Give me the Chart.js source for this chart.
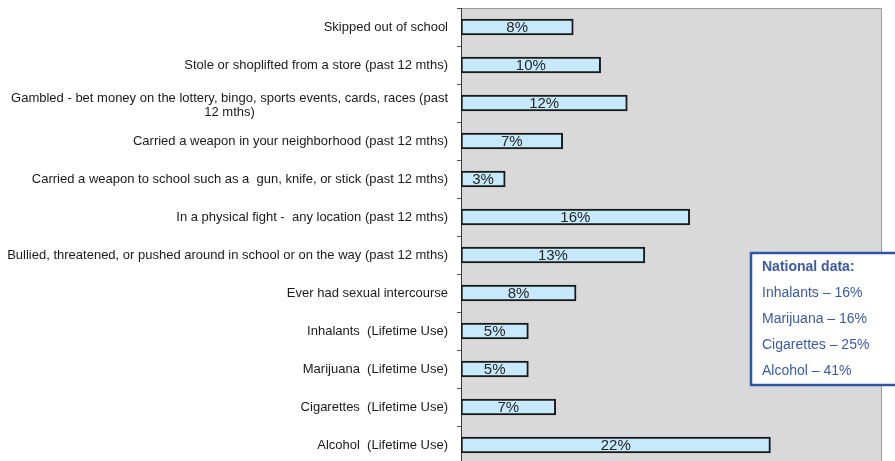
<!DOCTYPE html>
<html>
<head>
<meta charset="utf-8">
<script src="https://cdn.jsdelivr.net/npm/chart.js@4/dist/chart.umd.min.js"></script>
<style>
  html, body { margin: 0; padding: 0; background: #fff; overflow: hidden; }
  #wrap { position: relative; width: 895px; height: 464px; }
</style>
</head>
<body>
<div id="wrap"><canvas id="chart"></canvas></div>
<script>
// behaviours, top to bottom (multi-line labels as arrays)
const categories = [
  "Skipped out of school",
  "Stole or shoplifted from a store (past 12 mths)",
  ["Gambled - bet money on the lottery, bingo, sports events, cards, races (past", "12 mths)"],
  "Carried a weapon in your neighborhood (past 12 mths)",
  "Carried a weapon to school such as a  gun, knife, or stick (past 12 mths)",
  "In a physical fight -  any location (past 12 mths)",
  "Bullied, threatened, or pushed around in school or on the way (past 12 mths)",
  "Ever had sexual intercourse",
  "Inhalants  (Lifetime Use)",
  "Marijuana  (Lifetime Use)",
  "Cigarettes  (Lifetime Use)",
  "Alcohol  (Lifetime Use)"
];
// percent
const percents = [8.0, 9.95, 11.85, 7.25, 3.15, 16.3, 13.1, 8.2, 4.8, 4.8, 6.75, 22.05];

const nationalTitle = "National data:";
const nationalLabels = ["Inhalants", "Marijuana", "Cigarettes", "Alcohol"];
const nationalValues = [16, 16, 25, 41];

const FONT = "'Liberation Sans', Arial, sans-serif";

const plotBackground = {
  id: "plotBackground",
  beforeDraw(chart) {
    const { ctx, chartArea: a } = chart;
    ctx.save();
    ctx.fillStyle = "#d9d9d9";
    ctx.fillRect(a.left, a.top, a.right - a.left, a.bottom - a.top);
    ctx.strokeStyle = "#9c9c9c";
    ctx.lineWidth = 1;
    ctx.beginPath();
    ctx.moveTo(a.left, a.top + 0.5);
    ctx.lineTo(a.right - 0.5, a.top + 0.5);
    ctx.lineTo(a.right - 0.5, a.bottom);
    ctx.stroke();
    ctx.restore();
  }
};

const categoryLabels = {
  id: "categoryLabels",
  afterDraw(chart) {
    const { ctx } = chart;
    const y = chart.scales.y;
    const right = chart.chartArea.left - 13;
    const lineH = 14;
    ctx.save();
    ctx.font = "13px " + FONT;
    ctx.fillStyle = "#1a1a1a";
    ctx.textBaseline = "middle";
    ctx.textAlign = "center";
    categories.forEach((lab, i) => {
      const lines = Array.isArray(lab) ? lab : [lab];
      const w = Math.max(...lines.map(l => ctx.measureText(l).width));
      const cx = right - w / 2;
      const cy = y.getPixelForTick(i) + (lines.length > 1 ? 2 : 0);
      const y0 = cy - (lines.length - 1) * lineH / 2;
      lines.forEach((l, k) => ctx.fillText(l, cx, y0 + k * lineH));
    });
    ctx.restore();
  }
};

const valueLabels = {
  id: "valueLabels",
  afterDatasetsDraw(chart) {
    const { ctx } = chart;
    const meta = chart.getDatasetMeta(0);
    ctx.save();
    ctx.font = "15px " + FONT;
    ctx.fillStyle = "#262626";
    ctx.textAlign = "center";
    ctx.textBaseline = "middle";
    meta.data.forEach((bar, i) => {
      ctx.fillText(Math.round(percents[i]) + "%", (bar.base + bar.x) / 2, bar.y + 1);
    });
    ctx.restore();
  }
};

const nationalBox = {
  id: "nationalBox",
  afterDraw(chart) {
    const { ctx } = chart;
    ctx.save();
    ctx.fillStyle = "#ffffff";
    ctx.fillRect(751, 253, 260, 132);
    ctx.strokeStyle = "#2f55a5";
    ctx.lineWidth = 2.5;
    ctx.strokeRect(751, 253, 260, 132);
    ctx.fillStyle = "#3a5aa8";
    ctx.textBaseline = "middle";
    ctx.textAlign = "left";
    ctx.font = "bold 14px " + FONT;
    ctx.fillText(nationalTitle, 762, 267);
    ctx.font = "14px " + FONT;
    nationalLabels.forEach((l, i) => {
      ctx.fillText(l + " \u2013 " + nationalValues[i] + "%", 762, 293 + i * 26);
    });
    ctx.restore();
  }
};

new Chart(document.getElementById("chart"), {
  type: "bar",
  data: {
    labels: categories,
    datasets: [{
      data: percents,
      backgroundColor: "#c6e9fb",
      borderColor: "#1a1a1a",
      borderWidth: 2,
      borderSkipped: false,
      barThickness: 16
    }]
  },
  options: {
    indexAxis: "y",
    responsive: true,
    maintainAspectRatio: false,
    animation: false,
    layout: { padding: { top: 8, right: 13, bottom: 0, left: 0 } },
    plugins: { legend: { display: false }, tooltip: { enabled: false } },
    scales: {
      x: { display: false, min: 0, max: 30 },
      y: {
        afterFit(scale) { scale.width = 461; },
        border: { color: "#3a3a3a", width: 1 },
        grid: { drawOnChartArea: false, drawTicks: true, tickLength: 4, color: "#555", offset: true },
        ticks: { display: false }
      }
    }
  },
  plugins: [plotBackground, categoryLabels, valueLabels, nationalBox]
});
</script>
</body>
</html>
